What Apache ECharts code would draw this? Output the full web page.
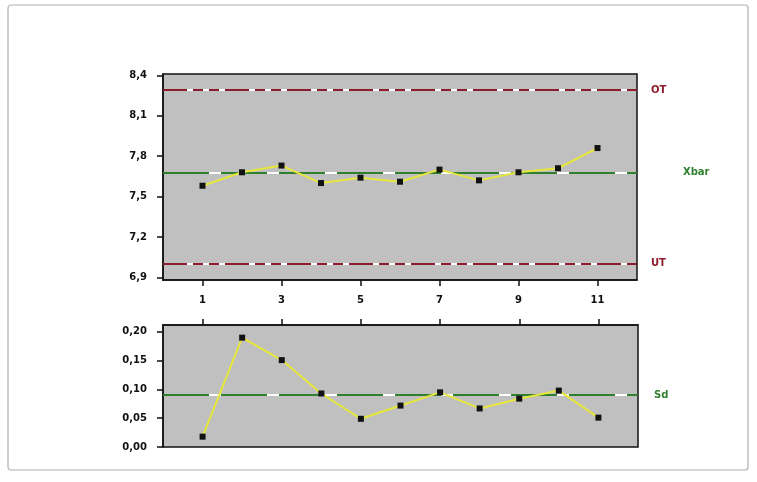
<!DOCTYPE html>
<html><head><meta charset="utf-8">
<script src="https://cdn.jsdelivr.net/npm/echarts@6/dist/echarts.min.js"></script>
<style>html,body{margin:0;padding:0;background:#fff;}#c{width:757px;height:482px;}</style>
</head><body><div id="c"></div>
<script>
var samples = [1,2,3,4,5,6,7,8,9,10,11];
var xbarValues = [7.58,7.68,7.73,7.60,7.64,7.61,7.70,7.62,7.68,7.71,7.86];
var sdValues = [0.018,0.190,0.151,0.093,0.049,0.072,0.095,0.067,0.084,0.098,0.051];
var xTickLabels = [1,3,5,7,9,11];
var topYTicks = [6.9,7.2,7.5,7.8,8.1,8.4];
var upperLimit = 8.29, lowerLimit = 7.0, xbarCenter = 7.68, sdCenter = 0.086;
var labels = {upper:'OT', lower:'UT', xbar:'Xbar', sd:'Sd'};

var chart = echarts.init(document.getElementById('c'));
var font = 'DejaVu Sans';
var red = '#8a1c2c', green = '#2f7f2f', yellow = '#e6e63c';
function pairs(vals){ return vals.map(function(v,i){return [samples[i], v];}); }
function limitSeries(xi, yi, val, color, dash, text, dist){
  return [{
    type:'line', xAxisIndex:xi, yAxisIndex:yi, data:[], silent:true, z:2,
    markLine:{symbol:'none', silent:true, animation:false,
      lineStyle:{color:'#ffffff', type:'solid', width:2},
      label:{show:false}, data:[{yAxis:val}]}
  },{
    type:'line', xAxisIndex:xi, yAxisIndex:yi, data:[], silent:true, z:3,
    markLine:{symbol:'none', silent:true, animation:false,
      lineStyle:{color:color, type:dash, width:2},
      label:{show:true, position:'end', formatter:text, color:color, fontFamily:font, fontSize:10, fontWeight:'bold', distance:dist},
      data:[{yAxis:val}]}
  }];
}
var series = [];
series = series.concat(limitSeries(0,0,upperLimit,red,[24,6,10,6,10,6],labels.upper,14));
series = series.concat(limitSeries(0,0,lowerLimit,red,[24,6,10,6,10,6],labels.lower,14));
series = series.concat(limitSeries(0,0,xbarCenter,green,[46,12],labels.xbar,46));
series = series.concat(limitSeries(1,1,sdCenter,green,[46,12],labels.sd,16));
series.push({type:'line', xAxisIndex:0, yAxisIndex:0, data:pairs(xbarValues), z:5,
  lineStyle:{color:yellow, width:2}, symbol:'rect', symbolSize:6, itemStyle:{color:'#111'}, animation:false});
series.push({type:'line', xAxisIndex:1, yAxisIndex:1, data:pairs(sdValues), z:5,
  lineStyle:{color:yellow, width:2}, symbol:'rect', symbolSize:6, itemStyle:{color:'#111'}, animation:false});

var axisLbl = {color:'#111', fontFamily:font, fontSize:10, fontWeight:'bold'};
chart.setOption({
  animation:false,
  backgroundColor:'#fff',
  graphic:[{type:'rect', shape:{x:8,y:5,width:740,height:465,r:3}, style:{fill:'none', stroke:'#b0b0b0', lineWidth:1.2}}],
  grid:[
    {left:163, top:74, width:474, height:206, show:true, backgroundColor:'#c0c0c0', borderColor:'#111', borderWidth:1.5},
    {left:163, top:325, width:475, height:122, show:true, backgroundColor:'#c0c0c0', borderColor:'#111', borderWidth:1.5}
  ],
  xAxis:[
    {type:'value', gridIndex:0, min:0, max:12, position:'bottom',
      axisLine:{show:true, onZero:false, lineStyle:{color:'#111', width:1.5}},
      axisTick:{show:true, length:6, customValues:xTickLabels, lineStyle:{color:'#111', width:1.5}},
      axisLabel:Object.assign({customValues:xTickLabels, margin:15}, axisLbl),
      splitLine:{show:false}},
    {type:'value', gridIndex:1, min:0, max:12, position:'top',
      axisLine:{show:true, onZero:false, lineStyle:{color:'#111', width:1.5}},
      axisTick:{show:true, length:6, customValues:xTickLabels, lineStyle:{color:'#111', width:1.5}},
      axisLabel:{show:false}, splitLine:{show:false}}
  ],
  yAxis:[
    {type:'value', gridIndex:0, min:6.88, max:8.41,
      axisLine:{show:true, onZero:false, lineStyle:{color:'#111', width:1.5}},
      axisTick:{show:true, length:6, customValues:topYTicks, lineStyle:{color:'#111', width:1.5}},
      axisLabel:Object.assign({customValues:topYTicks, margin:16, formatter:function(v){return v.toFixed(1).replace('.',',');}}, axisLbl),
      splitLine:{show:false}},
    {type:'value', gridIndex:1, min:0, max:0.212, interval:0.05,
      axisLine:{show:true, onZero:false, lineStyle:{color:'#111', width:1.5}},
      axisTick:{show:true, length:6, lineStyle:{color:'#111', width:1.5}},
      axisLabel:Object.assign({margin:16, showMaxLabel:false, formatter:function(v){return v.toFixed(2).replace('.',',');}}, axisLbl),
      splitLine:{show:false}}
  ],
  series:series
});
</script></body></html>
